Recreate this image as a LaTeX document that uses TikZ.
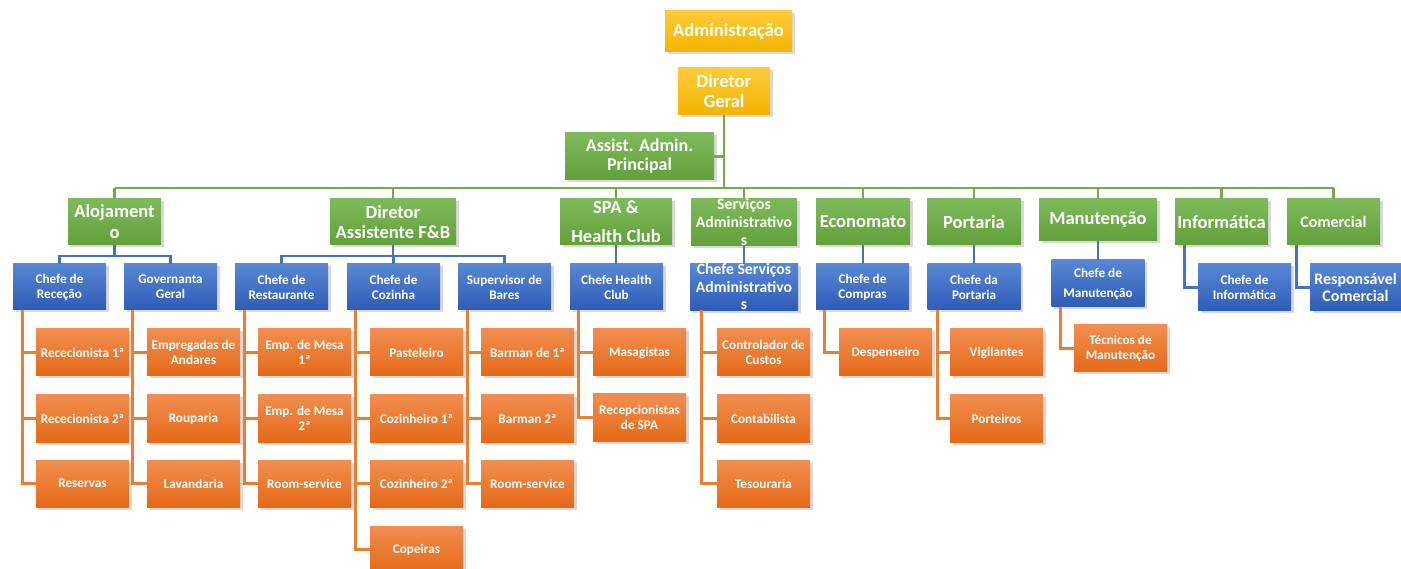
\documentclass[tikz,border=0pt]{standalone}
\usepackage{fontspec}
\setmainfont{Carlito}
\usetikzlibrary{shadows}
\definecolor{goldT}{HTML}{FFCB3A}
\definecolor{goldB}{HTML}{F2B300}
\definecolor{grnT}{HTML}{7EBA5B}
\definecolor{grnB}{HTML}{62A03A}
\definecolor{bluT}{HTML}{5887D5}
\definecolor{bluB}{HTML}{2E5CB7}
\definecolor{orgT}{HTML}{F28D50}
\definecolor{orgB}{HTML}{E46A17}
\definecolor{gLine}{HTML}{70AD47}
\definecolor{bLine}{HTML}{4472C4}
\definecolor{oLine}{HTML}{ED7D31}
\newcommand\myBig{\bfseries\fontsize{18.5}{20}\selectfont}
\newcommand\mySmall{\bfseries\fontsize{13.2}{15}\selectfont}
\newcommand\myMid{\bfseries\fontsize{16}{17}\selectfont}
\newcommand\mySer{\bfseries\fontsize{15.7}{17.5}\selectfont}
\begin{document}
\begin{tikzpicture}[x=1pt,y=-1pt,
  box/.style={rectangle, inner sep=0pt, align=center, text=white, font=\mySmall,
    minimum width=93pt, minimum height=47pt,
    drop shadow={shadow xshift=2.5pt, shadow yshift=-2.5pt, opacity=0.3}},
  goldbox/.style={box, top color=goldT, bottom color=goldB, font=\myBig},
  grnbox/.style={box, top color=grnT, bottom color=grnB, font=\myBig, minimum height=46pt},
  blubox/.style={box, top color=bluT, bottom color=bluB, minimum height=46pt},
  orgbox/.style={box, top color=orgT, bottom color=orgB},
  gline/.style={draw=gLine, line width=2.8pt},
  bline/.style={draw=bLine, line width=2.8pt},
  oline/.style={draw=oLine, line width=2.8pt}]
\useasboundingbox (0,0) rectangle (1401,569);
\coordinate (bus) at (0,188);
\coordinate (bb) at (0,256);
% top
\node[goldbox, minimum width=127pt, minimum height=41pt] (adm) at (728.5,31.5) {Administração};
\node[goldbox, minimum width=92pt] (dg) at (724,91.5) {Diretor\\Geral};
\node[grnbox, minimum width=149pt, minimum height=47pt, font=\bfseries\fontsize{18}{19}\selectfont] (aap) at (639.5,156.5) {Assist. Admin.\\Principal};
% green level
\node[grnbox, font=\bfseries\fontsize{18.5}{21}\selectfont] (aloj) at (114.5,222) {Alojament\\o};
\node[grnbox, minimum width=126pt] (fb) at (393,222) {Diretor\\Assistente F\&B};
\node[grnbox, minimum width=112pt, font=\bfseries\fontsize{18.5}{29}\selectfont] (spa) at (616,222) {SPA \&\\Health Club};
\node[grnbox, minimum width=106pt, font=\bfseries\fontsize{15.7}{18}\selectfont] (serv) at (744,222) {Serviços\\Administrativo\\s};
\node[grnbox, minimum width=94pt] (econ) at (863,222) {Economato};
\node[grnbox, minimum width=94pt] (port) at (974,222) {Portaria};
\node[grnbox, minimum width=118pt, minimum height=42pt] (manut) at (1098,220) {Manutenção};
\node[grnbox] (info) at (1221.5,222) {Informática};
\node[grnbox, font=\myMid] (com) at (1333.5,222) {Comercial};
% blue level
\node[blubox] (rec) at (59.5,287) {Chefe de\\Receção};
\node[blubox] (gov) at (170.5,287) {Governanta\\Geral};
\node[blubox] (rest) at (281.5,287) {Chefe de\\Restaurante};
\node[blubox] (coz) at (393.5,287) {Chefe de\\Cozinha};
\node[blubox] (bar) at (504.5,287) {Supervisor de\\Bares};
\node[blubox] (hc) at (616.5,287) {Chefe Health\\Club};
\node[blubox, minimum width=108pt, font=\mySer] (csa) at (744,287) {Chefe Serviços\\Administrativo\\s};
\node[blubox] (comp) at (862.5,287) {Chefe de\\Compras};
\node[blubox] (cport) at (974,287) {Chefe da\\Portaria};
\node[blubox, minimum height=47pt, font=\bfseries\fontsize{13.2}{20}\selectfont] (cman) at (1098,283.5) {Chefe de\\Manutenção};
\node[blubox, minimum height=47pt] (cinf) at (1244.5,287.5) {Chefe de\\Informática};
\node[blubox, minimum width=91pt, minimum height=47pt, font=\myMid] (resp) at (1355.5,287.5) {Responsável\\Comercial};
% orange level
\node[orgbox] (r1) at (82.5,352.5) {Rececionista 1ª};
\node[orgbox] (r2) at (82.5,418.5) {Rececionista 2ª};
\node[orgbox] (r3) at (82.5,483.5) {Reservas};
\node[orgbox] (g1) at (193.5,352.5) {Empregadas de\\Andares};
\node[orgbox] (g2) at (193.5,418.5) {Rouparia};
\node[orgbox] (g3) at (193.5,483.5) {Lavandaria};
\node[orgbox] (m1) at (304.5,352.5) {Emp. de Mesa\\1ª};
\node[orgbox] (m2) at (304.5,418.5) {Emp. de Mesa\\2ª};
\node[orgbox] (m3) at (304.5,483.5) {Room-service};
\node[orgbox] (k1) at (416.5,352.5) {Pasteleiro};
\node[orgbox] (k2) at (416.5,418.5) {Cozinheiro 1ª};
\node[orgbox] (k3) at (416.5,483.5) {Cozinheiro 2ª};
\node[orgbox] (k4) at (416.5,549.5) {Copeiras};
\node[orgbox] (b1) at (527.5,352.5) {Barman de 1ª};
\node[orgbox] (b2) at (527.5,418.5) {Barman 2ª};
\node[orgbox] (b3) at (527.5,483.5) {Room-service};
\node[orgbox] (h1) at (639.5,352.5) {Masagistas};
\node[orgbox] (h2) at (639.5,417.5) {Recepcionistas\\de SPA};
\node[orgbox] (s1) at (763.5,352.5) {Controlador de\\Custos};
\node[orgbox] (s2) at (763.5,418.5) {Contabilista};
\node[orgbox] (s3) at (763.5,483.5) {Tesouraria};
\node[orgbox] (d1) at (885.5,352.5) {Despenseiro};
\node[orgbox] (p1) at (996.5,352.5) {Vigilantes};
\node[orgbox] (p2) at (996.5,418.5) {Porteiros};
\node[orgbox] (t1) at (1120.5,348.5) {Técnicos de\\Manutenção};
% green connectors
\draw[gline] (dg.south) -- (dg.south |- bus);
\draw[gline] (aap.east) -- (aap.east -| dg.south);
\draw[gline] (aloj.north |- bus) -- (com.north |- bus);
\foreach \n in {aloj,fb,spa,serv,econ,port,manut,info,com}
  \draw[gline] (\n.north) -- (\n.north |- bus);
% blue connectors
\draw[bline] (rec.north) |- (aloj.south |- bb) -- (aloj.south);
\draw[bline] (gov.north) |- (aloj.south |- bb);
\draw[bline] (rest.north) |- (fb.south |- bb) -- (fb.south);
\draw[bline] (bar.north) |- (fb.south |- bb);
\draw[bline] (coz.north) -- (coz.north |- bb);
\draw[bline] (spa.south) -- (spa.south |- hc.north);
\draw[bline] (serv.south) -- (serv.south |- csa.north);
\draw[bline] (econ.south) -- (econ.south |- comp.north);
\draw[bline] (port.south) -- (port.south |- cport.north);
\draw[bline] (manut.south) -- (manut.south |- cman.north);
\draw[bline] ([xshift=10pt]info.south west) |- (cinf.west);
\draw[bline] ([xshift=10pt]com.south west) |- (resp.west);
% orange connectors
\foreach \p/\c/\s in {rec/r1/10, rec/r2/10, rec/r3/10, gov/g1/9, gov/g2/9, gov/g3/9,
  rest/m1/10, rest/m2/10, rest/m3/10, coz/k1/9, coz/k2/9, coz/k3/9, coz/k4/9,
  bar/b1/10, bar/b2/10, bar/b3/10, hc/h1/9, hc/h2/9, csa/s1/12, csa/s2/12, csa/s3/12,
  comp/d1/9, cport/p1/10, cport/p2/10, cman/t1/9}
  \draw[oline] ([xshift=\s pt]\p.south west) |- (\c.west);
\end{tikzpicture}
\end{document}
